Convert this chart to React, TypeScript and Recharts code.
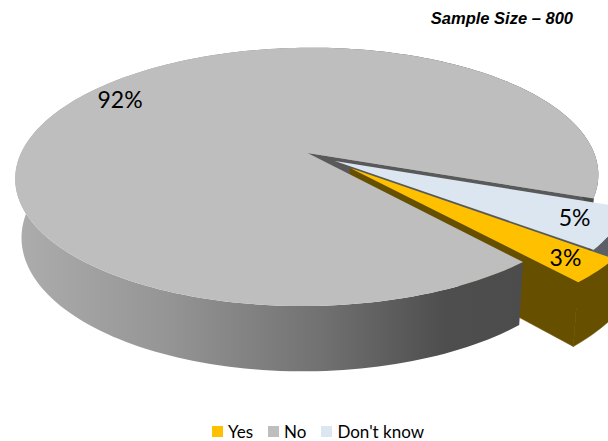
import React from 'react';
import { PieChart, Pie, Legend } from 'recharts';

const categories = ['Yes', 'No', "Don't know"];
const shares = [3, 92, 5];
const sampleNote = 'Sample Size – 800';

const topColors = ['#ffc000', '#bebebe', '#dce6f1'];
const wallColors = ['#665000', '#595959', '#5b6067'];
// how far each slice is pulled out of the pie, as a fraction of the radius
const explode = [0.09, 0.099, 0.015];
const labelRadius = [0.885, 0.875, 0.87];
const labelNudgeY = [-1, 3, -2];

const tableData = categories.map((name, i) => ({ name, value: shares[i], fill: topColors[i] }));

const RAD = Math.PI / 180;
const TILT = 0.44;
const PERSPECTIVE = 0.187;

type Pt = [number, number];

// disc coordinates -> screen, with the far edge foreshortened
function project(p: any, u: number, v: number, bottom: boolean): Pt {
  const ry = p.outerRadius * TILT;
  const s = 1 / (1 - PERSPECTIVE * v);
  const x = u * p.outerRadius * s;
  const y = v * ry * s;
  if (bottom) return [p.cx + x * 0.98, p.cy + 58 + y * 1.05];
  return [p.cx + x, p.cy + y];
}

function sliceCenter(index: number, mid: number): Pt {
  const e = explode[index];
  return [e * Math.cos(mid * RAD), -e * Math.sin(mid * RAD)];
}

function rim(p: any, index: number, angle: number, bottom: boolean): Pt {
  const [cu, cv] = sliceCenter(index, p.midAngle);
  return project(p, cu + Math.cos(angle * RAD), cv - Math.sin(angle * RAD), bottom);
}

function arc(p: any, index: number, bottom: boolean): Pt[] {
  const steps = Math.max(8, Math.ceil(Math.abs(p.endAngle - p.startAngle) / 1.5));
  const pts: Pt[] = [];
  for (let i = 0; i <= steps; i++) {
    pts.push(rim(p, index, p.startAngle + ((p.endAngle - p.startAngle) * i) / steps, bottom));
  }
  return pts;
}

const toPath = (pts: Pt[]) => 'M' + pts.map((q) => q[0].toFixed(2) + ' ' + q[1].toFixed(2)).join('L') + 'Z';

function apex(p: any, index: number, bottom: boolean): Pt {
  const [cu, cv] = sliceCenter(index, p.midAngle);
  return project(p, cu, cv, bottom);
}

// top face of one slice; the other slices draw nothing in this layer
const topFace = (only: number) => (p: any) => {
  const index = categories.indexOf(p.name);
  if (index !== only) return <g />;
  return <path d={toPath([apex(p, index, false), ...arc(p, index, false)])} fill={topColors[index]} />;
};

// radial wall on the clockwise end, the only one facing the viewer
const radialWall = (only: number) => (p: any) => {
  const index = categories.indexOf(p.name);
  if (index !== only) return <g />;
  const flat = wallColors[index];
  const d = toPath([
    apex(p, index, false),
    rim(p, index, p.endAngle, false),
    rim(p, index, p.endAngle, true),
    apex(p, index, true),
  ]);
  return <path d={d} fill={flat} stroke={flat} strokeWidth={0.6} />;
};

const outerWall = (only: number) => (p: any) => {
  const index = categories.indexOf(p.name);
  if (index !== only) return <g />;
  const top = arc(p, index, false);
  const low = arc(p, index, true);
  const d = toPath([...top, ...low.slice().reverse()]);
  if (index !== 1) return <path d={d} fill={wallColors[index]} stroke={wallColors[index]} strokeWidth={0.6} />;
  return (
    <g>
      <defs>
        <linearGradient id="noWall" gradientUnits="userSpaceOnUse" x1="15" y1="0" x2="520" y2="0">
          <stop offset="0" stopColor="#adadad" />
          <stop offset="0.3" stopColor="#959595" />
          <stop offset="0.6" stopColor="#727272" />
          <stop offset="0.85" stopColor="#4e4e4e" />
          <stop offset="1" stopColor="#4c4c4c" />
        </linearGradient>
      </defs>
      <path d={d} fill="url(#noWall)" />
    </g>
  );
};

const percentLabel = (p: any) => {
  const index = categories.indexOf(p.name);
  const [cu, cv] = sliceCenter(index, p.midAngle);
  const r = labelRadius[index];
  const [x, y] = project(p, cu + r * Math.cos(p.midAngle * RAD), cv - r * Math.sin(p.midAngle * RAD), false);
  return (
    <text x={x} y={y + labelNudgeY[index]} textAnchor="middle" dominantBaseline="central" fontSize={23} fontFamily="Lato" fill="#000">
      {p.value}%
    </text>
  );
};

// every layer reports the same slices, so only one entry per category is kept
const legendContent = ({ payload }: any) => (
  <div style={{ display: 'flex', justifyContent: 'center', gap: 15, fontFamily: 'Lato', fontSize: 17, lineHeight: '15px', color: '#000' }}>
    {categories.map((name, i) => {
      const item = (payload || []).find((entry: any) => entry.value === name);
      return (
        <span key={name} style={{ display: 'flex', alignItems: 'center', gap: 5 }}>
          <span style={{ width: 11, height: 11, background: item ? item.color : topColors[i] }} />
          {name}
        </span>
      );
    })}
  </div>
);

// painted back to front, since the slices overlap each other
const layers = [
  outerWall(2),
  radialWall(2),
  radialWall(1),
  outerWall(0),
  radialWall(0),
  outerWall(1),
  topFace(1),
  topFace(2),
  topFace(0),
];

export default function App() {
  return (
    <div style={{ position: 'absolute', left: 0, top: 0, width: 608, height: 441, overflow: 'hidden' }}>
      <PieChart width={608} height={441} margin={{ top: 0, right: 0, bottom: 0, left: 0 }}>
        {layers.map((shape, i) => (
          <Pie
            key={i}
            data={tableData}
            dataKey="value"
            nameKey="name"
            cx={331}
            cy={160}
            outerRadius={289.5}
            startAngle={-38}
            endAngle={-398}
            stroke="none"
            shape={shape}
            legendType={i === layers.length - 1 ? 'square' : 'none'}
            label={i === layers.length - 1 ? percentLabel : false}
            labelLine={false}
            isAnimationActive={false}
          />
        ))}
        <text x={573} y={24} textAnchor="end" fontSize={16.5} fontWeight="bold" fontStyle="italic" fontFamily="Liberation Sans" fill="#000">
          {sampleNote}
        </text>
        <Legend content={legendContent} wrapperStyle={{ top: 424, left: 14 }} />
      </PieChart>
    </div>
  );
}
